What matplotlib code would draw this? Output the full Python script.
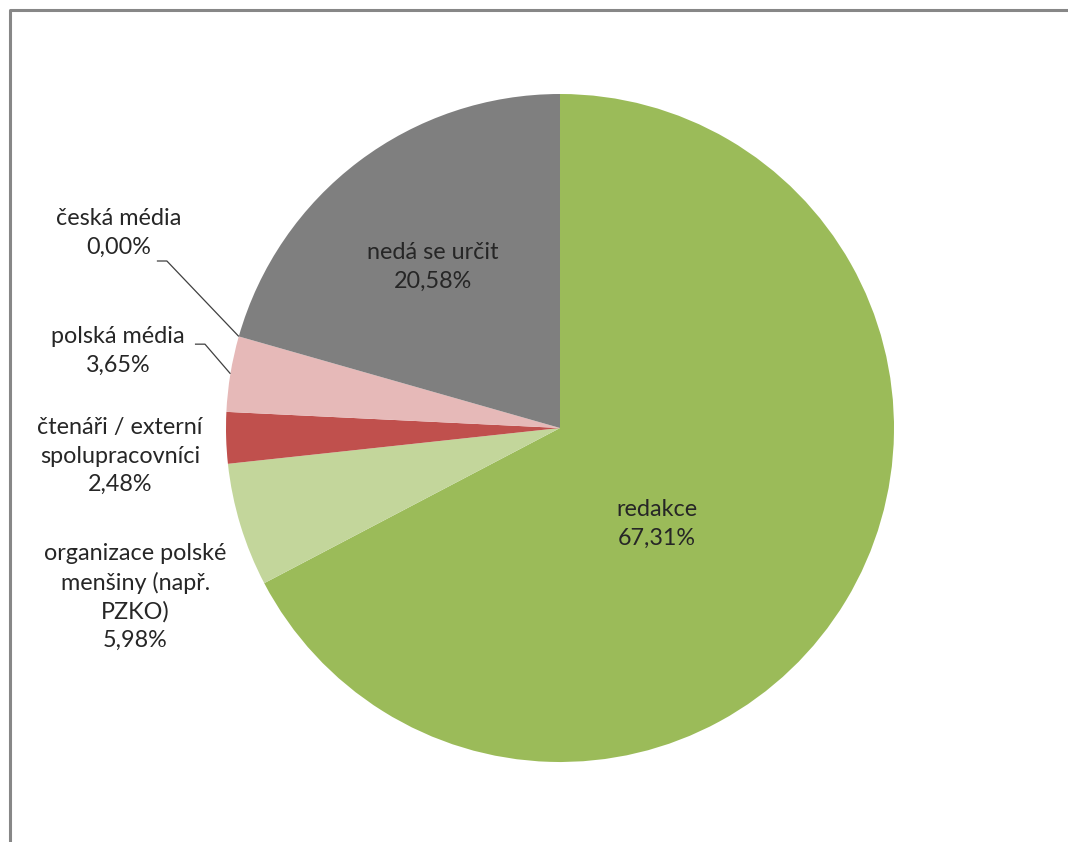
import numpy as np
import matplotlib
matplotlib.use("Agg")
import matplotlib.pyplot as plt
from matplotlib.lines import Line2D

# data: share of article sources
labels = ["redakce", "organizace polské\nmenšiny (např.\nPZKO)", "čtenáři / externí\nspolupracovníci",
          "polská média", "česká média", "nedá se určit"]
values = [67.31, 5.98, 2.48, 3.65, 0.00, 20.58]
colors = ["#9BBB59", "#C3D69B", "#C0504D", "#E6B9B8", "#4F81BD", "#7F7F7F"]

# where each label sits (data units, pie radius = 1)
label_pos = [(0.290, -0.287), (-1.272, -0.506), (-1.317, -0.084),
             (-1.323, 0.231), (-1.320, 0.584), (-0.380, 0.482)]
# labels that get a leader line: index -> start of the short horizontal tick
leaders = {4: (-1.207, 0.500), 3: (-1.093, 0.251)}

W, H, DPI = 1068, 842, 100
cx, cy, R = 560, 428, 334  # pie centre / radius in pixels

plt.rcParams['font.family'] = ['Lato', 'DejaVu Sans']
fig = plt.figure(figsize=(W / DPI, H / DPI), dpi=DPI)
ax = fig.add_axes([0, 0, 1, 1])

wedges, _ = ax.pie(values, colors=colors, startangle=90, counterclock=False,
                   radius=1, center=(0, 0), wedgeprops=dict(linewidth=0))
ax.set_aspect('auto')
ax.set_xlim(-cx / R, (W - cx) / R)
ax.set_ylim(-(H - cy) / R, cy / R)
ax.axis('off')

txt_color = "#262626"
for i, (lab, v) in enumerate(zip(labels, values)):
    s = lab + "\n" + ("%.2f" % v).replace(".", ",") + "%"
    x, y = label_pos[i]
    ax.text(x, y, s, ha='center', va='center', fontsize=16.8, color=txt_color,
            linespacing=1.42)

for i, (x0, y0) in leaders.items():
    w = wedges[i]
    a = np.deg2rad((w.theta1 + w.theta2) / 2)
    ex, ey = np.cos(a), np.sin(a)
    ax.plot([x0, x0 + 0.03, ex], [y0, y0, ey], color="#404040", lw=0.9,
            solid_capstyle='butt')

# chart area border (top and left edges visible)
fx = 9.5 / W
fy = 1 - 9.5 / H
fig.add_artist(Line2D([fx, fx, 1.01], [-0.01, fy, fy], transform=fig.transFigure,
                      color="#878787", lw=2.2))

fig.savefig("out.png", dpi=DPI)
